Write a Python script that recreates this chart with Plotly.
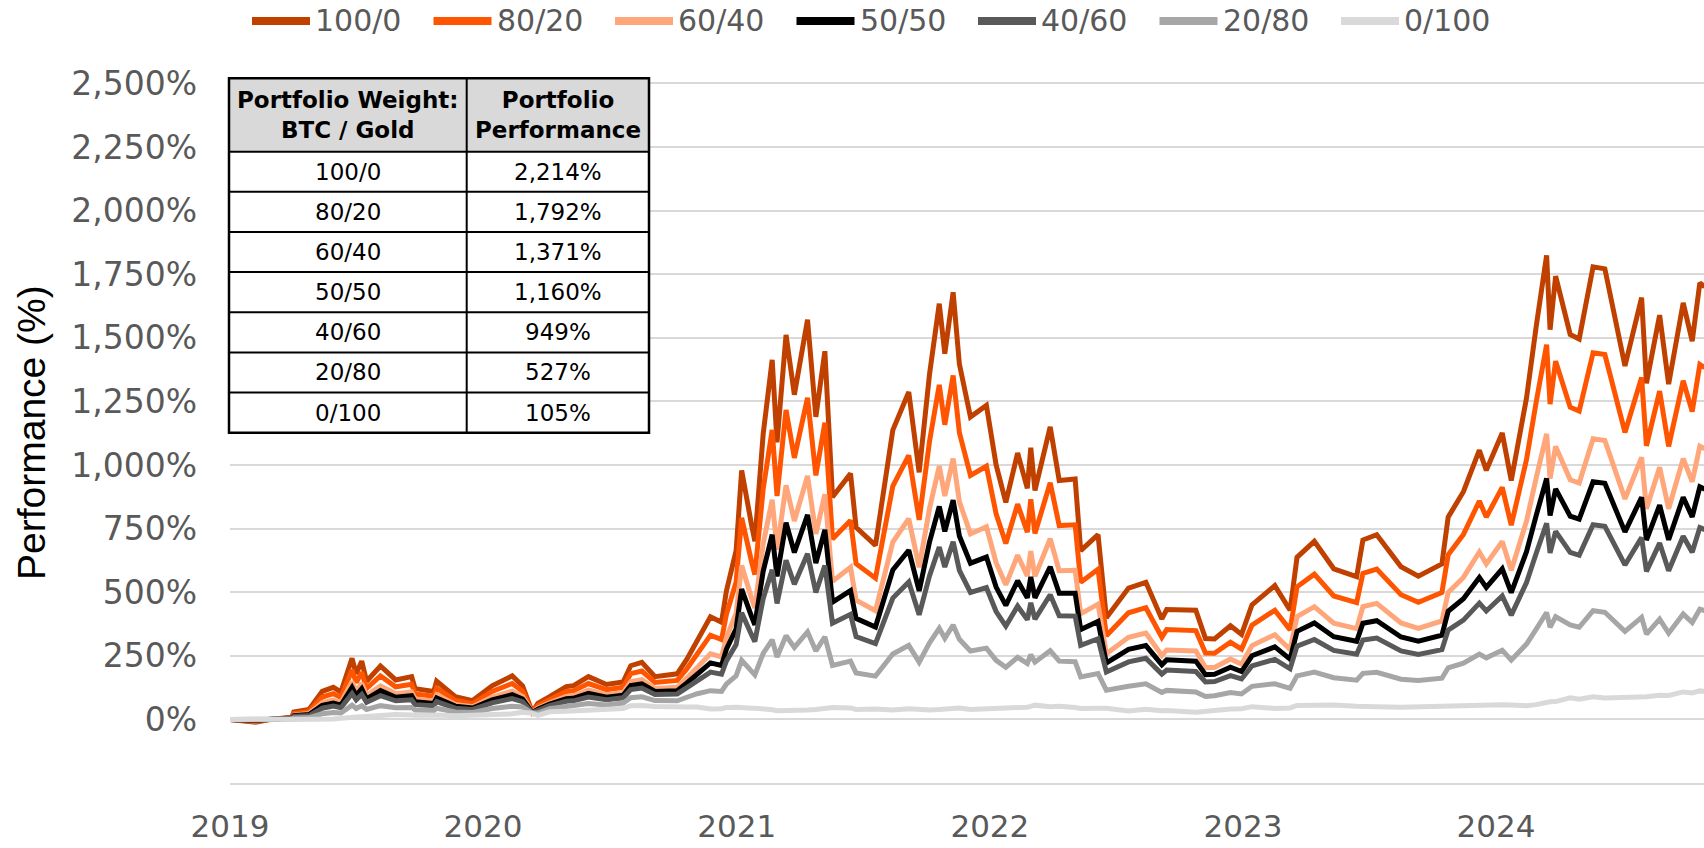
import plotly.graph_objects as go

# sample dates (roughly every 2-4 weeks, denser around the swings)
dates = [
    "2019-01-01", "2019-01-20", "2019-02-07", "2019-03-01", "2019-03-31", "2019-04-03", "2019-04-25", "2019-05-14", "2019-05-30", "2019-06-10",
    "2019-06-26", "2019-07-02", "2019-07-10", "2019-07-17", "2019-08-06", "2019-08-28", "2019-09-20", "2019-09-25", "2019-10-22", "2019-10-26",
    "2019-11-22", "2019-12-17", "2020-01-14", "2020-02-12", "2020-02-27", "2020-03-12", "2020-03-20", "2020-04-06", "2020-04-30", "2020-05-10",
    "2020-06-01", "2020-06-27", "2020-07-21", "2020-08-01", "2020-08-17", "2020-09-05", "2020-10-07", "2020-10-21", "2020-11-05", "2020-11-24",
    "2020-12-10", "2020-12-17", "2020-12-31", "2021-01-08", "2021-01-22", "2021-01-27", "2021-02-08", "2021-02-21", "2021-02-28", "2021-03-13",
    "2021-03-25", "2021-04-13", "2021-04-25", "2021-05-08", "2021-05-19", "2021-06-14", "2021-06-22", "2021-07-20", "2021-08-14", "2021-09-06",
    "2021-09-21", "2021-10-06", "2021-10-20", "2021-10-28", "2021-11-09", "2021-11-18", "2021-12-04", "2021-12-27", "2022-01-10", "2022-01-24",
    "2022-02-10", "2022-02-24", "2022-03-01", "2022-03-07", "2022-03-29", "2022-04-11", "2022-05-04", "2022-05-12", "2022-06-06", "2022-06-18",
    "2022-07-20", "2022-08-14", "2022-09-06", "2022-09-13", "2022-10-25", "2022-11-08", "2022-11-21", "2022-12-14", "2022-12-30", "2023-01-14",
    "2023-02-16", "2023-03-10", "2023-03-20", "2023-04-14", "2023-05-12", "2023-06-14", "2023-06-23", "2023-07-13", "2023-08-17", "2023-09-11",
    "2023-10-15", "2023-10-24", "2023-11-15", "2023-12-08", "2023-12-18", "2024-01-10", "2024-01-23", "2024-02-14", "2024-02-28", "2024-03-14",
    "2024-03-19", "2024-03-27", "2024-04-17", "2024-04-30", "2024-05-20", "2024-06-06", "2024-07-05", "2024-07-29", "2024-08-05", "2024-08-24",
    "2024-09-06", "2024-09-27", "2024-10-10", "2024-10-21", "2024-10-28",
]

# performance in % for each BTC / Gold weight
perf_100_0 = [0, -4, -11, 0, 8, 29, 39, 110, 126, 108, 240, 179, 229, 150, 210, 155, 168, 121, 110, 150,
              89, 74, 132, 171, 132, 29, 63, 89, 129, 132, 168, 137, 147, 211, 224, 168, 179, 237, 311, 403,
              382, 505, 663, 979, 768, 700, 1121, 1413, 1089, 1511, 1276, 1571, 1189, 1447, 874, 966, 755, 684, 1137, 1287,
              971, 1358, 1634, 1437, 1679, 1397, 1189, 1234, 1000, 853, 1047, 908, 1068, 900, 1150, 939, 945, 663, 726, 400,
              516, 539, 395, 432, 429, 318, 316, 368, 334, 450, 526, 429, 637, 700, 592, 561, 705, 726, 600, 563,
              611, 795, 895, 1058, 979, 1126, 939, 1263, 1545, 1824, 1532, 1742, 1513, 1495, 1779, 1771, 1389, 1658, 1321, 1589,
              1318, 1637, 1487, 1716, 1700]
perf_80_20 = [0, -3, -8, 0, 7, 23, 31, 88, 101, 87, 194, 145, 185, 122, 171, 128, 138, 100, 91, 123,
              74, 62, 110, 141, 111, 28, 54, 77, 110, 112, 141, 117, 126, 180, 190, 145, 153, 199, 259, 331,
              314, 413, 540, 792, 623, 569, 905, 1138, 878, 1216, 1028, 1264, 959, 1166, 709, 782, 612, 555, 917, 1038,
              784, 1094, 1315, 1158, 1352, 1127, 959, 995, 808, 691, 846, 736, 865, 731, 930, 762, 765, 539, 590, 329,
              419, 439, 323, 353, 349, 261, 260, 303, 276, 370, 429, 352, 521, 571, 485, 459, 574, 591, 490, 460,
              499, 647, 727, 858, 795, 912, 763, 1021, 1248, 1473, 1239, 1408, 1227, 1212, 1441, 1434, 1128, 1344, 1075, 1290,
              1073, 1331, 1210, 1395, 1382]
perf_60_40 = [0, -2, -5, 1, 5, 17, 23, 66, 76, 66, 148, 111, 141, 94, 132, 101, 108, 79, 72, 97,
              59, 50, 88, 111, 90, 27, 44, 65, 90, 92, 115, 97, 105, 148, 156, 121, 126, 162, 206, 258,
              246, 322, 417, 605, 478, 438, 690, 863, 667, 920, 780, 957, 729, 885, 543, 598, 469, 427, 697, 789,
              598, 830, 996, 878, 1025, 856, 729, 757, 616, 529, 645, 564, 661, 562, 710, 584, 586, 415, 453, 258,
              323, 339, 251, 273, 269, 204, 204, 237, 217, 290, 333, 275, 404, 443, 378, 357, 443, 456, 379, 358,
              387, 499, 558, 658, 611, 699, 586, 779, 950, 1122, 947, 1073, 942, 929, 1103, 1096, 867, 1030, 828, 991,
              828, 1025, 934, 1074, 1064]
perf_50_50 = [0, -1, -4, 1, 5, 15, 19, 55, 64, 56, 125, 94, 120, 81, 113, 87, 93, 69, 63, 84,
              52, 45, 77, 97, 80, 27, 40, 60, 81, 83, 102, 87, 95, 133, 140, 110, 113, 143, 180, 222,
              212, 276, 356, 512, 406, 372, 582, 726, 562, 773, 656, 804, 614, 745, 461, 506, 397, 363, 587, 665,
              505, 698, 837, 739, 862, 721, 614, 638, 520, 448, 545, 478, 560, 478, 600, 496, 496, 353, 385, 222,
              275, 290, 215, 234, 229, 176, 177, 205, 188, 250, 285, 237, 346, 379, 325, 307, 378, 388, 324, 307,
              331, 425, 474, 558, 519, 592, 498, 659, 802, 947, 801, 906, 799, 787, 934, 928, 737, 873, 705, 842,
              706, 873, 796, 914, 905]
perf_40_60 = [0, -1, -3, 1, 4, 12, 15, 44, 52, 46, 102, 77, 98, 67, 93, 73, 77, 58, 54, 70,
              44, 39, 65, 82, 70, 26, 35, 54, 71, 73, 88, 77, 85, 117, 123, 98, 100, 124, 154, 186,
              178, 230, 294, 419, 334, 306, 474, 588, 456, 625, 531, 651, 499, 605, 378, 413, 325, 298, 477, 540,
              411, 565, 677, 599, 698, 586, 499, 518, 424, 367, 445, 392, 458, 394, 490, 407, 406, 291, 317, 186,
              226, 240, 178, 194, 188, 147, 149, 172, 159, 210, 236, 199, 288, 314, 271, 256, 312, 320, 269, 255,
              274, 351, 390, 457, 426, 485, 410, 538, 653, 771, 654, 739, 656, 645, 765, 759, 607, 715, 582, 693,
              584, 720, 657, 754, 746]
perf_20_80 = [0, 0, 0, 2, 2, 6, 7, 22, 27, 25, 56, 43, 54, 39, 54, 46, 47, 37, 35, 44,
              29, 27, 43, 52, 49, 25, 25, 42, 51, 53, 62, 57, 64, 85, 89, 74, 73, 87, 101, 113,
              110, 139, 171, 232, 189, 175, 259, 313, 245, 329, 283, 344, 269, 324, 212, 229, 182, 170, 257, 291,
              225, 301, 358, 319, 371, 315, 269, 280, 232, 205, 244, 220, 254, 225, 270, 229, 227, 167, 180, 115,
              130, 140, 106, 114, 108, 90, 93, 106, 100, 130, 140, 122, 171, 186, 164, 154, 181, 185, 158, 153,
              162, 203, 221, 257, 242, 272, 233, 296, 355, 420, 362, 404, 371, 362, 427, 421, 346, 401, 335, 394,
              339, 414, 381, 433, 428]
perf_0_100 = [0, 1, 3, 2, 1, 0, -1, 0, 2, 4, 10, 9, 10, 11, 15, 19, 17, 16, 16, 17,
              14, 15, 21, 22, 28, 24, 16, 30, 32, 33, 35, 37, 43, 54, 55, 51, 47, 49, 49, 41,
              42, 47, 48, 45, 44, 44, 43, 38, 34, 34, 35, 37, 39, 43, 47, 45, 39, 41, 37, 42,
              38, 37, 39, 40, 44, 45, 39, 41, 40, 43, 43, 48, 51, 56, 50, 52, 47, 43, 44, 44,
              33, 40, 34, 35, 28, 33, 37, 41, 42, 50, 43, 45, 55, 57, 57, 52, 50, 50, 48, 50,
              50, 55, 53, 57, 58, 58, 57, 54, 58, 69, 69, 70, 85, 79, 89, 84, 85, 87, 89, 95,
              94, 108, 104, 112, 110]

names = ["100/0", "80/20", "60/40", "50/50", "40/60", "20/80", "0/100"]
colors = ["#C04000", "#FF5500", "#FFA67A", "#000000", "#595959", "#A6A6A6", "#D9D9D9"]
series = [perf_100_0, perf_80_20, perf_60_40, perf_50_50, perf_40_60, perf_20_80, perf_0_100]

# table in the top-left corner
table_header = ["Portfolio Weight:<br>BTC / Gold", "Portfolio<br>Performance"]
table_perf = ["2,214%", "1,792%", "1,371%", "1,160%", "949%", "527%", "105%"]

y_ticks = [-250, 0, 250, 500, 750, 1000, 1250, 1500, 1750, 2000, 2250, 2500]
year_ticks = ["2019-01-01", "2020-01-01", "2021-01-01", "2022-01-01", "2023-01-01", "2024-01-01"]

# plot area in pixels, used to place legend, table and title
PL, PW, PT, PH = 230, 1474, 78, 705
def px_x(x):
    return (x - PL) / PW
def px_y(y):
    return (PT + PH - y) / PH

fig = go.Figure()
for name, col, vals in zip(names, colors, series):
    fig.add_trace(go.Scatter(x=dates, y=vals, mode="lines", name=name,
                             line=dict(color=col, width=5), showlegend=False))

# table drawn with shapes so each header line stays centred
tx = [229, 466.7, 649]
ty_top, ty_head, row_h = 78.3, 151.7, 40.14
ty_bot = ty_head + row_h * len(names)
fig.add_shape(type="rect", xref="paper", yref="paper", x0=px_x(tx[0]), x1=px_x(tx[2]),
              y0=px_y(ty_top), y1=px_y(ty_head), fillcolor="#D9D9D9", line_width=0)
fig.add_shape(type="rect", xref="paper", yref="paper", x0=px_x(tx[0]), x1=px_x(tx[2]),
              y0=px_y(ty_head), y1=px_y(ty_bot), fillcolor="white", line_width=0)
for k in range(len(names)):
    yy = ty_head + k * row_h
    fig.add_shape(type="line", xref="paper", yref="paper", x0=px_x(tx[0]), x1=px_x(tx[2]),
                  y0=px_y(yy), y1=px_y(yy), line=dict(color="black", width=2))
fig.add_shape(type="line", xref="paper", yref="paper", x0=px_x(tx[1]), x1=px_x(tx[1]),
              y0=px_y(ty_top), y1=px_y(ty_bot), line=dict(color="black", width=2))
fig.add_shape(type="rect", xref="paper", yref="paper", x0=px_x(tx[0]), x1=px_x(tx[2]),
              y0=px_y(ty_top), y1=px_y(ty_bot), line=dict(color="black", width=2.5))

cx = [(tx[0] + tx[1]) / 2, (tx[1] + tx[2]) / 2]
for c, txt in zip(cx, table_header):
    fig.add_annotation(xref="paper", yref="paper", x=px_x(c), y=px_y((ty_top + ty_head) / 2),
                       text="<b>" + txt.replace("<br>", "</b><br><b>") + "</b>",
                       showarrow=False, align="center", xanchor="center", yanchor="middle",
                       font=dict(family="DejaVu Sans", size=23, color="black"))
for k, (w, p) in enumerate(zip(names, table_perf)):
    yc = ty_head + (k + 0.5) * row_h
    for c, txt in zip(cx, [w, p]):
        fig.add_annotation(xref="paper", yref="paper", x=px_x(c), y=px_y(yc), text=txt,
                           showarrow=False, xanchor="center", yanchor="middle",
                           font=dict(family="DejaVu Sans", size=23, color="black"))

# legend across the top
for i, (name, col) in enumerate(zip(names, colors)):
    x0 = 252 + i * 181.5
    fig.add_shape(type="line", xref="paper", yref="paper",
                  x0=px_x(x0), x1=px_x(x0 + 58), y0=px_y(21), y1=px_y(21),
                  line=dict(color=col, width=8))
    fig.add_annotation(xref="paper", yref="paper", x=px_x(x0 + 61), y=px_y(21),
                       text=name, showarrow=False, xanchor="left", yanchor="middle",
                       font=dict(family="DejaVu Sans", size=30, color="#595959"))

fig.add_annotation(xref="paper", yref="paper", x=px_x(32), y=px_y(433),
                   text="Performance (%)", textangle=-90, showarrow=False,
                   xanchor="center", yanchor="middle",
                   font=dict(family="Liberation Sans", size=39, color="black"))

fig.update_layout(width=1704, height=848, margin=dict(l=PL, r=0, t=PT, b=848 - PT - PH),
                  plot_bgcolor="white", paper_bgcolor="white", showlegend=False)
fig.update_xaxes(type="date", range=["2019-01-01", "2024-10-27"], tickvals=year_ticks,
                 tickformat="%Y", showgrid=False, zeroline=False, ticks="",
                 showline=True, linecolor="#D9D9D9", linewidth=2,
                 automargin=False, ticklabelstandoff=15,
                 tickfont=dict(family="DejaVu Sans", size=31, color="#595959"))
fig.update_yaxes(range=[-250, 2521], tickvals=y_ticks,
                 ticktext=["" if v < 0 else f"{v:,}%" for v in y_ticks],
                 showgrid=True, gridcolor="#D9D9D9", gridwidth=2, zeroline=False,
                 showline=False, ticks="", automargin=False, ticklabelstandoff=32,
                 tickfont=dict(family="DejaVu Sans", size=33, color="#595959"))

# the page body has a default 8px margin; drop it so the figure sits at the corner
fig.write_html("out.html", config={"displayModeBar": False},
               post_script="document.body.style.margin='0px';")
